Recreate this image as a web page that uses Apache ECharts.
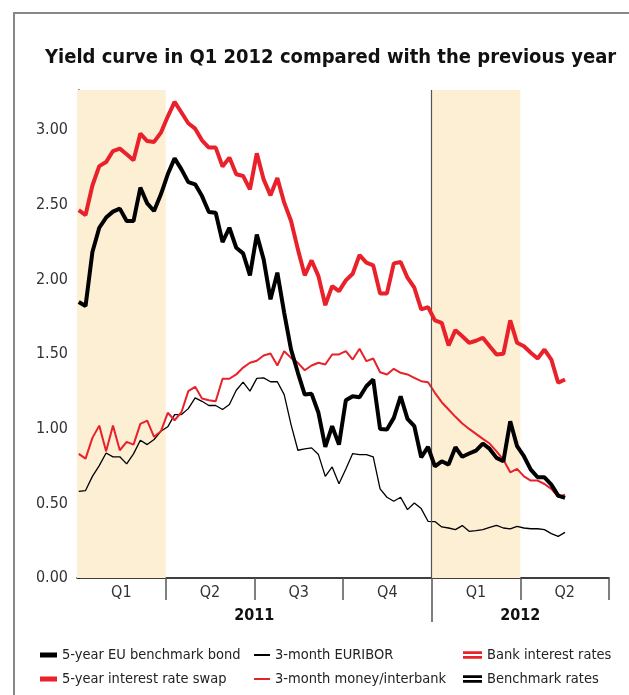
<!DOCTYPE html>
<html>
<head>
<meta charset="utf-8">
<title>Yield curve</title>
<script src="https://cdn.jsdelivr.net/npm/echarts@6/dist/echarts.min.js"></script>
<style>
  html, body { margin: 0; padding: 0; background: #fff; }
  #chart { width: 629px; height: 695px; }
</style>
</head>
<body>
<div id="chart"></div>
<script>
// weekly readings, Jan 2011 -> mid Q2 2012
var bond = [1.849, 1.822, 2.184, 2.347, 2.415, 2.455, 2.475, 2.392, 2.392, 2.616,
  2.51, 2.459, 2.571, 2.705, 2.812, 2.738, 2.653, 2.638, 2.559, 2.452,
  2.448, 2.251, 2.347, 2.213, 2.175, 2.028, 2.302, 2.135, 1.867, 2.046,
  1.777, 1.531, 1.375, 1.229, 1.234, 1.107, 0.879, 1.017, 0.894, 1.191,
  1.218, 1.211, 1.285, 1.33, 0.999, 0.995, 1.073, 1.218, 1.066, 1.017,
  0.808, 0.878, 0.748, 0.782, 0.76, 0.876, 0.812, 0.834, 0.854, 0.901,
  0.865, 0.805, 0.782, 1.05, 0.883, 0.816, 0.726, 0.675, 0.675, 0.626,
  0.552, 0.537];
var euribor = [0.581, 0.586, 0.681, 0.753, 0.838, 0.812, 0.812, 0.765, 0.832, 0.923,
  0.894, 0.928, 0.983, 1.013, 1.095, 1.095, 1.135, 1.207, 1.184, 1.156,
  1.156, 1.129, 1.162, 1.258, 1.312, 1.252, 1.338, 1.341, 1.315, 1.315,
  1.229, 1.028, 0.856, 0.865, 0.872, 0.827, 0.681, 0.744, 0.632, 0.731,
  0.834, 0.827, 0.827, 0.812, 0.597, 0.541, 0.514, 0.541, 0.458, 0.503,
  0.465, 0.38, 0.378, 0.342, 0.335, 0.324, 0.351, 0.313, 0.317, 0.324,
  0.339, 0.353, 0.335, 0.329, 0.346, 0.335, 0.33, 0.33, 0.324, 0.297,
  0.279, 0.306];
var swap = [2.465, 2.432, 2.63, 2.76, 2.787, 2.861, 2.877, 2.839, 2.799, 2.978,
  2.928, 2.922, 2.984, 3.092, 3.19, 3.119, 3.047, 3.011, 2.933, 2.884,
  2.884, 2.757, 2.817, 2.705, 2.694, 2.604, 2.846, 2.671, 2.564, 2.68,
  2.515, 2.392, 2.202, 2.028, 2.128, 2.023, 1.828, 1.956, 1.922, 1.994,
  2.039, 2.164, 2.113, 2.095, 1.907, 1.907, 2.108, 2.117, 2.012, 1.945,
  1.8, 1.815, 1.726, 1.71, 1.558, 1.661, 1.62, 1.576, 1.59, 1.61,
  1.553, 1.498, 1.502, 1.726, 1.576, 1.553, 1.509, 1.471, 1.531, 1.464,
  1.308, 1.33];
var interbank = [0.832, 0.8, 0.939, 1.021, 0.849, 1.021, 0.856, 0.912, 0.894, 1.033,
  1.055, 0.946, 0.983, 1.107, 1.057, 1.111, 1.252, 1.281, 1.203, 1.191,
  1.184, 1.335, 1.335, 1.364, 1.41, 1.442, 1.456, 1.491, 1.504, 1.424,
  1.52, 1.475, 1.442, 1.392, 1.424, 1.442, 1.431, 1.498, 1.498, 1.52,
  1.464, 1.536, 1.453, 1.471, 1.379, 1.364, 1.402, 1.375, 1.364, 1.341,
  1.319, 1.312, 1.241, 1.178, 1.129, 1.08, 1.035, 0.999, 0.966, 0.932,
  0.901, 0.849, 0.793, 0.708, 0.731, 0.681, 0.653, 0.653, 0.63, 0.597,
  0.543, 0.559];

var quarterLabels = ['Q1', 'Q2', 'Q3', 'Q4', 'Q1', 'Q2'];
var years = ['2011', '2012'];
var yearCenters = [2, 5];      // in quarters
var shadedQuarters = [[0, 1], [4, 5]];

var FONT = "'Liberation Sans Narrow', 'DejaVu Sans Condensed', sans-serif";
var RED = '#e8212a';

function pts(arr) {
  return arr.map(function (v, i) { return [i, v]; });
}

var legendText = { fontFamily: FONT, fontSize: 14.5, color: '#222', lineHeight: 16 };

var chart = echarts.init(document.getElementById('chart'));

var option = {
  animation: false,
  textStyle: { fontFamily: FONT },
  title: {
    text: 'Yield curve in Q1 2012 compared with the previous year',
    left: 40, top: 43,
    textStyle: { fontFamily: FONT, fontWeight: 'bold', fontSize: 20, color: '#111' }
  },
  graphic: [{
    type: 'rect', silent: true,
    shape: { x: 14, y: 13, width: 700, height: 800 },
    style: { fill: 'none', stroke: '#888', lineWidth: 2 }
  }],
  grid: { left: 77, right: 20, top: 90, bottom: 117 },
  legend: [
    {
      orient: 'vertical', left: 40, top: 647, padding: 0, itemWidth: 17, itemHeight: 5, itemGap: 8,
      icon: 'rect', selectedMode: false, textStyle: legendText,
      data: ['5-year EU benchmark bond', '5-year interest rate swap']
    },
    {
      orient: 'vertical', left: 254, top: 647, padding: 0, itemWidth: 16, itemHeight: 2, itemGap: 8,
      icon: 'rect', selectedMode: false, textStyle: legendText,
      data: ['3-month EURIBOR', '3-month money/interbank']
    },
    {
      orient: 'vertical', left: 463, top: 647, padding: 0, itemWidth: 19, itemHeight: 8, itemGap: 8,
      icon: 'path://M0,0H20V3H0Z M0,5H20V8H0Z', selectedMode: false, textStyle: legendText,
      data: ['Bank interest rates', 'Benchmark rates']
    }
  ],
  xAxis: [
    {
      // weekly data axis
      type: 'value', min: -0.25, max: 77.42,
      axisLine: { lineStyle: { color: '#000', width: 1.5 } },
      axisTick: { show: false }, axisLabel: { show: false }, splitLine: { show: false }
    },
    {
      // quarters
      type: 'value', min: 0, max: 6, position: 'bottom',
      axisLine: { show: false }, splitLine: { show: false },
      axisTick: { customValues: [1, 2, 3, 5, 6], length: 22, lineStyle: { color: '#555', width: 1.5 } },
      axisLabel: {
        customValues: [0.5, 1.5, 2.5, 3.5, 4.5, 5.5], margin: 7,
        fontFamily: FONT, fontSize: 16, color: '#333',
        formatter: function (v) { return quarterLabels[Math.floor(v)]; }
      }
    },
    {
      // years
      type: 'value', min: 0, max: 6, position: 'bottom',
      axisLine: { show: false }, splitLine: { show: false },
      axisTick: { customValues: [4], length: 44, lineStyle: { color: '#555', width: 1.5 } },
      axisLabel: {
        customValues: yearCenters, margin: 30,
        fontFamily: FONT, fontSize: 16, fontWeight: 'bold', color: '#111',
        formatter: function (v) { return years[yearCenters.indexOf(v)]; }
      }
    }
  ],
  yAxis: {
    type: 'value', min: 0, max: 3.27, interval: 0.5,
    axisLine: { show: true, lineStyle: { color: '#000', width: 1.5 } },
    axisTick: { show: false }, splitLine: { show: false },
    axisLabel: {
      margin: 9, fontFamily: FONT, fontSize: 16, color: '#333', showMaxLabel: false,
      formatter: function (v) { return v.toFixed(2); }
    }
  },
  series: [
    {
      type: 'line', name: 'bands', xAxisIndex: 1, data: [], silent: true, z: 1,
      markArea: {
        silent: true,
        itemStyle: { color: '#fdefd4' },
        data: shadedQuarters.map(function (q) { return [{ xAxis: q[0] }, { xAxis: q[1] }]; })
      },
      markLine: {
        silent: true, symbol: 'none', label: { show: false },
        lineStyle: { color: '#555', width: 1.2, type: 'solid' },
        data: [{ xAxis: 4 }]
      }
    },
    {
      type: 'line', name: '3-month EURIBOR', data: pts(euribor), z: 3,
      showSymbol: false, color: '#000', lineStyle: { color: '#000', width: 1.3 }
    },
    {
      type: 'line', name: '3-month money/interbank', data: pts(interbank), z: 4,
      showSymbol: false, color: RED, lineStyle: { color: RED, width: 2 }
    },
    {
      type: 'line', name: '5-year interest rate swap', data: pts(swap), z: 5,
      showSymbol: false, color: RED, lineStyle: { color: RED, width: 4 }
    },
    {
      type: 'line', name: '5-year EU benchmark bond', data: pts(bond), z: 6,
      showSymbol: false, color: '#000', lineStyle: { color: '#000', width: 4 }
    },
    { type: 'line', name: 'Bank interest rates', data: [], color: RED },
    { type: 'line', name: 'Benchmark rates', data: [], color: '#000' }
  ]
};

chart.setOption(option);
</script>
</body>
</html>
